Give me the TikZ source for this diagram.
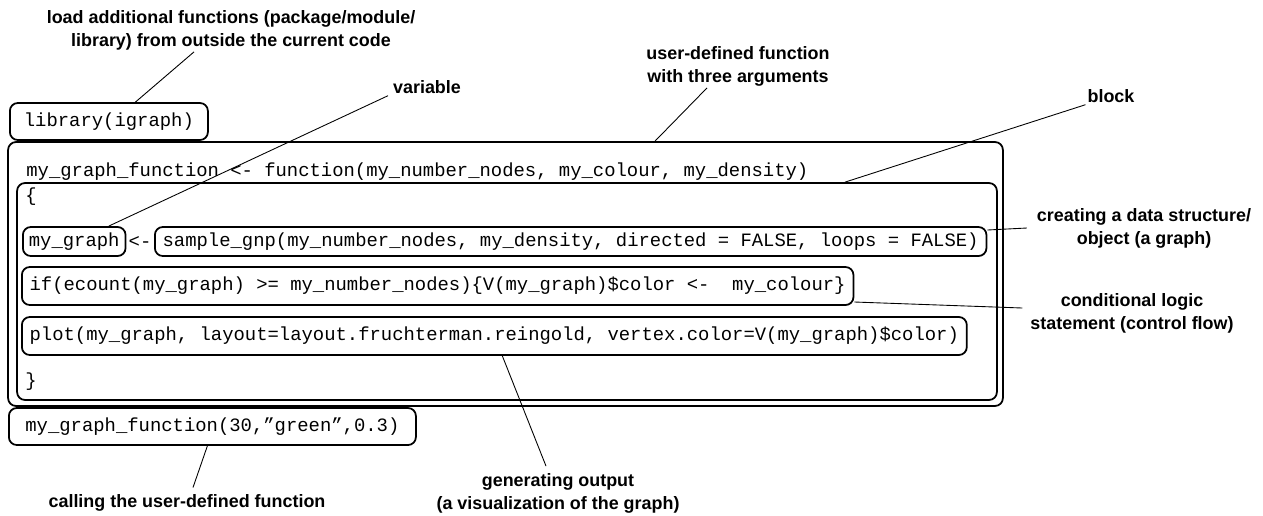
\documentclass[tikz,border=0pt]{standalone}
\usepackage{fontspec}
\setmainfont{Liberation Sans}
\newfontfamily\codefont{Liberation Mono}

\begin{document}
\begin{tikzpicture}[x=0.02cm, y=-0.02cm,
        code/.style={font=\codefont\fontsize{10.75}{13}\selectfont},
        codebox/.style={code, draw, line width=1pt, rounded corners=4.5pt,
            anchor=west, inner xsep=0.155cm, inner ysep=0pt},
        frame/.style={draw, line width=1pt, rounded corners=4.5pt, inner sep=0pt},
        note/.style={font=\bfseries\fontsize{10.2}{13}\selectfont, align=center, inner sep=1pt},
        pointer/.style={line width=0.5pt}]
            \useasboundingbox (0, 0) rectangle (1263, 515);

            % the function and its block
            \node [frame, minimum width=19.9cm, minimum height=5.28cm] (function) at (505.5, 274) {};
            \node [frame, minimum width=19.6cm, minimum height=4.34cm] (block) at (507, 291.5) {};

            \node [codebox, minimum height=0.74cm, inner xsep=0.28cm] (library) at (9, 121.5) {library(igraph)};
            \node [code, anchor=west, inner sep=0pt] (header) at (26, 172)
                {my\_graph\_function <- function(my\_number\_nodes, my\_colour, my\_density)};
            \node [code, anchor=west, inner sep=0pt] (open brace) at (25, 197) {\{};

            \node [codebox, minimum height=0.58cm, inner xsep=0.12cm] (my graph) at (22, 241.5) {my\_graph};
            \node [code, inner sep=0pt] (assign) at (140, 241.5) {<-};
            \node [codebox, minimum height=0.58cm] (sample) at (154, 241.5)
                {sample\_gnp(my\_number\_nodes, my\_density, directed = FALSE, loops = FALSE)};
            \node [codebox, minimum height=0.76cm] (if) at (21, 286)
                {if(ecount(my\_graph) >= my\_number\_nodes)\{V(my\_graph)\$color <-\ \ my\_colour\}};
            \node [codebox, minimum height=0.76cm] (plot) at (21, 336)
                {plot(my\_graph, layout=layout.fruchterman.reingold, vertex.color=V(my\_graph)\$color)};

            \node [code, anchor=west, inner sep=0pt] (close brace) at (25, 382) {\}};
            \node [codebox, minimum height=0.74cm, inner xsep=0.33cm] (call) at (8, 426.5)
                {my\_graph\_function(30,”green”,0.3)};

            % annotations
            \node [note] (load note) at (231, 30) {load additional functions (package/module/\\library) from outside the current code};
            \node [note] (variable note) at (427, 87) {variable};
            \node [note] (udf note) at (738, 66) {user-defined function\\with three arguments};
            \node [note] (block note) at (1111, 96) {block};
            \node [note] (create note) at (1144, 228) {creating a data structure/\\object (a graph)};
            \node [note] (cond note) at (1132, 313) {conditional logic\\statement (control flow)};
            \node [note] (gen note) at (558, 493) {generating output\\(a visualization of the graph)};
            \node [note] (call note) at (187, 503) {calling the user-defined function};

            \draw [pointer] ([xshift=-0.74cm]load note.south) -- ([xshift=0.53cm]library.north);
            \draw [pointer] ([xshift=-0.78cm]variable note.south) -- ([xshift=0.69cm]my graph.north);
            \draw [pointer] ([xshift=-0.62cm]udf note.south) -- ([xshift=2.99cm]function.north);
            \draw [pointer] (block note.south west) -- ([xshift=6.76cm]block.north);
            \draw [pointer] ([yshift=0.23cm]sample.east) -- ([xshift=-0.16cm]create note.west);
            \draw [pointer] ([yshift=-0.32cm]if.east) -- ([xshift=-0.12cm, yshift=0.1cm]cond note.west);
            \draw [pointer] ([xshift=0.16cm]plot.south) -- ([xshift=-0.24cm, yshift=0.1cm]gen note.north);
            \draw [pointer] ([xshift=-0.1cm]call.south) -- ([xshift=0.12cm, yshift=0.1cm]call note.north);
    \end{tikzpicture}
\end{document}
